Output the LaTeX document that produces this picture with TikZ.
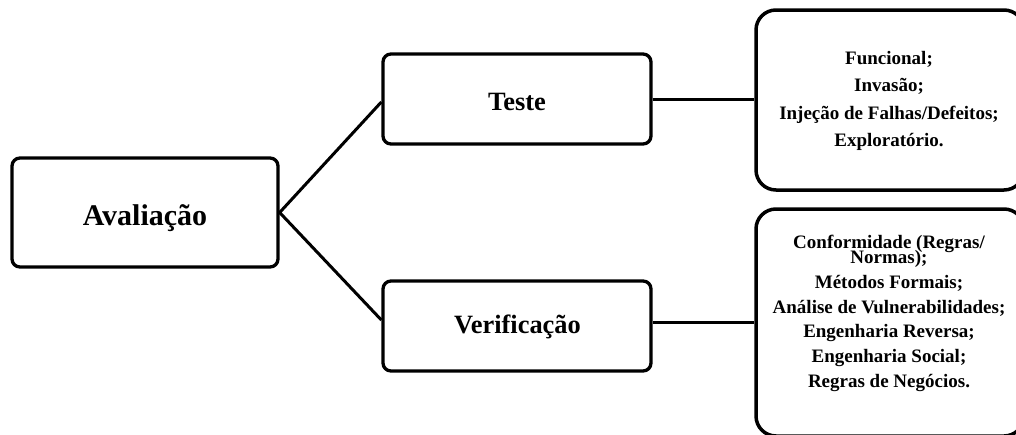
\documentclass[tikz,border=0pt]{standalone}
\usepackage{fontspec}
\setmainfont{Liberation Serif}
\begin{document}
\begin{tikzpicture}[x=1pt,y=-1pt,
  box/.style={draw, line width=3.3pt, rounded corners=8pt, inner sep=0pt},
  bigbox/.style={draw, line width=3.5pt, rounded corners=20pt, inner sep=0pt},
  link/.style={line width=3pt},
  lbl/.style={anchor=base, inner sep=0pt},
  listtext/.style={align=center, inner sep=0pt}]
\useasboundingbox (0,0) rectangle (1016,434);
\clip (0,0) rectangle (1016,434);

% boxes
\node[box, minimum width=266pt, minimum height=109pt] (aval) at (145,212.5) {};
\node[box, minimum width=268pt, minimum height=90pt] (teste) at (517,99) {};
\node[box, minimum width=268pt, minimum height=90pt] (verif) at (517,326) {};
\node[bigbox, minimum width=268pt, minimum height=180pt] (tipos) at (890,100) {};
\node[bigbox, minimum width=268pt, minimum height=227pt] (metodos) at (890,322.5) {};

% titles
\node[lbl, font=\bfseries\fontsize{30}{36}\selectfont] (aval-t) at (145,225) {Avaliação};
\node[lbl, font=\bfseries\fontsize{26.4}{32}\selectfont] (teste-t) at (517,110) {Teste};
\node[lbl, font=\bfseries\fontsize{26.4}{32}\selectfont] (verif-t) at (517.5,333.3) {Verificação};

% lists
\node[listtext, font=\bfseries\fontsize{19}{27.5}\selectfont] (tipos-t) at (889,101)
  {Funcional;\\Invasão;\\Injeção de Falhas/Defeitos;\\Exploratório.};
\node[listtext, font=\bfseries\fontsize{19}{24.8}\selectfont] (metodos-t) at (889,313.5)
  {Conformidade (Regras/\\[-9.8pt]Normas);\\Métodos Formais;\\Análise de Vulnerabilidades;\\Engenharia Reversa;\\Engenharia Social;\\Regras de Negócios.};

% connectors
\draw[link] ([yshift=-3pt]teste.west) -- (aval.east) -- ([yshift=6pt]verif.west);
\draw[link] (teste.east) -- (tipos.west |- teste.east);
\draw[link] (metodos.west) -- (metodos.west -| verif.east);
\end{tikzpicture}
\end{document}
